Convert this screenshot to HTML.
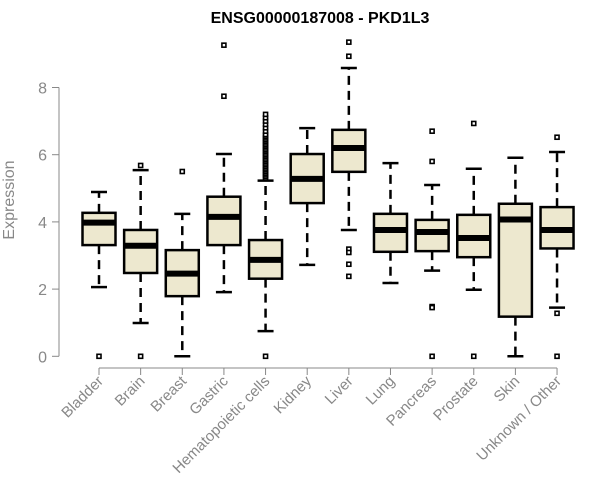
<!DOCTYPE html>
<html><head><meta charset="utf-8"><style>
html,body{margin:0;padding:0;background:#fff;}
svg{display:block;font-family:"Liberation Sans",Arial,sans-serif;}
</style></head><body>
<svg id="chart" width="600" height="500">
<text x="320" y="23" text-anchor="middle" font-weight="bold" font-size="16" fill="#000">ENSG00000187008 - PKD1L3</text>
<text transform="translate(14,200) rotate(-90)" text-anchor="middle" font-size="16" fill="#888">Expression</text>
<g id="yaxis"></g>
<g id="xaxis"></g>
<g id="boxes"></g>
</svg>
<script>
const categories=["Bladder","Brain","Breast","Gastric","Hematopoietic cells","Kidney","Liver","Lung","Pancreas","Prostate","Skin","Unknown / Other"];
const whiskerLow=[2.06,0.99,0,1.91,0.75,2.72,3.76,2.18,2.55,1.98,0,1.45];
const q1=[3.31,2.48,1.79,3.31,2.31,4.56,5.49,3.11,3.13,2.95,1.18,3.21];
const medians=[3.98,3.29,2.46,4.15,2.87,5.28,6.2,3.76,3.70,3.52,4.07,3.76];
const q3=[4.27,3.76,3.16,4.75,3.46,6.02,6.74,4.24,4.06,4.21,4.54,4.44];
const whiskerHigh=[4.89,5.54,4.24,6.02,5.23,6.79,8.58,5.75,5.10,5.58,5.91,6.08];
const outliers=[[0],[0,5.68],[5.5],[9.26,7.74],[0,5.3,5.35,5.4,5.45,5.5,5.55,5.6,5.65,5.7,5.75,5.8,5.85,5.9,5.95,6.0,6.05,6.1,6.15,6.2,6.25,6.3,6.35,6.4,6.45,6.5,6.55,6.6,6.7,6.8,6.9,7.0,7.1,7.2],[],[9.35,8.93,3.19,3.09,2.74,2.38],[],[6.70,5.80,1.48,1.45,0],[6.93,0],[],[6.52,1.28,0]];
const yTicks=[0,2,4,6,8];

const NS="http://www.w3.org/2000/svg";
const y=v=>356.3-v*33.6;
const x=i=>99+i*41.64;
const hw=16.5;
function mk(tag,attrs,parent){const e=document.createElementNS(NS,tag);for(const k in attrs)e.setAttribute(k,attrs[k]);parent.appendChild(e);return e;}
const ya=document.getElementById('yaxis'),xa=document.getElementById('xaxis'),bx=document.getElementById('boxes');
mk('line',{x1:59,x2:59,y1:y(0),y2:y(8),stroke:'#888','stroke-width':1},ya);
yTicks.forEach(t=>{
  mk('line',{x1:52,x2:59,y1:y(t),y2:y(t),stroke:'#888'},ya);
  const tx=mk('text',{x:47,y:y(t)+6,'text-anchor':'end','font-size':16,fill:'#888'},ya);
  tx.textContent=t;
  
  
});
mk('line',{x1:x(0),x2:x(11),y1:368,y2:368,stroke:'#888'},xa);
categories.forEach((c,i)=>{
  mk('line',{x1:x(i),x2:x(i),y1:368,y2:375,stroke:'#888'},xa);
  const tx=mk('text',{transform:`translate(${x(i)+5},382) rotate(-45)`,'text-anchor':'end','font-size':15,fill:'#888'},xa);
  tx.textContent=c;
  
  
  const g=mk('g',{},bx);
  
  
  const cx=x(i);
  mk('line',{x1:cx,x2:cx,y1:y(q3[i]),y2:y(whiskerHigh[i]),stroke:'#000','stroke-width':2.5,'stroke-dasharray':'9,6'},g);
  mk('line',{x1:cx,x2:cx,y1:y(q1[i]),y2:y(whiskerLow[i]),stroke:'#000','stroke-width':2.5,'stroke-dasharray':'9,6'},g);
  mk('line',{x1:cx-8,x2:cx+8,y1:y(whiskerHigh[i]),y2:y(whiskerHigh[i]),stroke:'#000','stroke-width':2.5},g);
  mk('line',{x1:cx-8,x2:cx+8,y1:y(whiskerLow[i]),y2:y(whiskerLow[i]),stroke:'#000','stroke-width':2.5},g);
  mk('rect',{x:cx-hw,y:y(q3[i]),width:2*hw,height:y(q1[i])-y(q3[i]),fill:'#ede8cf',stroke:'#000','stroke-width':2.5},g);
  mk('line',{x1:cx-hw,x2:cx+hw,y1:y(medians[i]),y2:y(medians[i]),stroke:'#000','stroke-width':6},g);
  outliers[i].forEach(o=>{
    const p=mk('rect',{x:cx-2,y:y(o)-2,width:4,height:4,fill:'#fff',stroke:'#000','stroke-width':1.6},g);
    
    
  });
});
</script>
</body></html>
